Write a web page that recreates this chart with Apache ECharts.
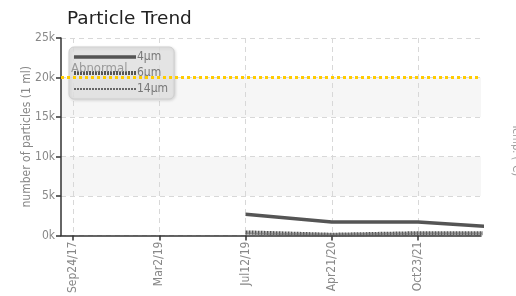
<!DOCTYPE html>
<html>
<head>
<meta charset="utf-8">
<script src="https://cdn.jsdelivr.net/npm/echarts@6/dist/echarts.min.js"></script>
<style>html,body{margin:0;padding:0;background:#fff}#c{width:516px;height:296px}</style>
</head>
<body>
<div id="c"></div>
<script>
var dateLabels = ['Sep24/17', 'Mar2/19', 'Jul12/19', 'Apr21/20', 'Oct23/21'];
var yTicks = [0, 5000, 10000, 15000, 20000, 25000];
var um4 = [null, null, 2700, 1700, 1700, 1000];
var um6 = [null, null, 400, 100, 300, 300];
var um14 = [null, null, 250, 150, 250, 250];
var abnormalLevel = 20000;

var FONT = '"DejaVu Sans Condensed","Liberation Sans Narrow","Roboto",sans-serif';
function pts(arr){ return arr.map(function(v,i){ return [i, v]; }); }
var chart = echarts.init(document.getElementById('c'), null, {renderer:'canvas'});
chart.setOption({
  animation:false,
  title:{text:'Particle Trend', left:62, top:5, textStyle:{fontFamily:'"DejaVu Sans",sans-serif', fontSize:18.5, fontWeight:'normal', color:'#222'}},
  grid:{left:61, right:35, top:38, bottom:60, containLabel:false},
  legend:{
    orient:'vertical', left:69, top:47, padding:[4,6,4,3], itemGap:4,
    itemWidth:62, itemHeight:5, backgroundColor:'rgba(228,228,228,0.82)',
    borderColor:'#cfcfcf', borderWidth:1, borderRadius:5,
    shadowColor:'rgba(0,0,0,0.15)', shadowBlur:3, shadowOffsetX:1, shadowOffsetY:1,
    itemStyle:{opacity:0},
    textStyle:{fontFamily:FONT, fontSize:12, color:'#777', padding:[0,0,0,-4]},
    data:[
      {name:'4μm', lineStyle:{width:3.5, color:'#555', type:'solid'}},
      {name:'6μm', lineStyle:{width:4, color:'#555', type:[2,1]}},
      {name:'14μm', lineStyle:{width:2, color:'#666', type:[2,1]}}
    ]
  },
  xAxis:{
    type:'value', min:-0.14, max:4.73,
    axisLine:{show:true, onZero:false, lineStyle:{color:'#333', width:1.5}},
    axisTick:{show:true, customValues:[0,1,2,3,4], length:5, lineStyle:{color:'#333', width:1.5}},
    axisLabel:{customValues:[0,1,2,3,4], rotate:90, color:'#888', fontFamily:FONT, fontSize:12, margin:6,
      formatter:function(v){ return dateLabels[Math.round(v)] || ''; }},
    splitLine:{show:true, lineStyle:{color:'#d8d8d8', type:[5,4]}}
  },
  yAxis:{
    type:'value', min:yTicks[0], max:yTicks[yTicks.length-1], interval:5000,
    name:'number of particles (1 ml)', nameLocation:'middle', nameGap:28, nameMoveOverlap:false,
    nameTextStyle:{color:'#888', fontFamily:FONT, fontSize:12},
    axisLine:{show:true, onZero:false, lineStyle:{color:'#333', width:1.5}},
    axisTick:{show:true, length:5, lineStyle:{color:'#333', width:1.5}},
    axisLabel:{color:'#888', fontFamily:FONT, fontSize:12, margin:6, formatter:function(v){ return (v/1000)+'k'; }},
    splitLine:{show:true, lineStyle:{color:'#d8d8d8', type:[5,4]}},
    splitArea:{show:true, areaStyle:{color:['#ffffff','#f6f6f6']}}
  },
  graphic:[{type:'text', left:510, top:124, rotation:-Math.PI/2, originX:0, originY:0,
    style:{text:'Temp. (°C)', fill:'#999', font:'11px '+FONT}}],
  series:[
    {name:'4μm', type:'line', data:pts(um4), showSymbol:false, symbol:'none', connectNulls:false,
     lineStyle:{color:'#555', width:3.5}, itemStyle:{color:'#555'}, z:3,
     markLine:{silent:true, symbol:['none','none'],
       lineStyle:{color:'#ffcc00', type:'dotted', width:3},
       label:{show:true, position:'insideStartTop', formatter:'Abnormal', color:'#999', fontFamily:FONT, fontSize:13, distance:[10,2]},
       data:[{yAxis:abnormalLevel}]}},
    {name:'6μm', type:'line', data:pts(um6), showSymbol:false, symbol:'none',
     lineStyle:{color:'#555', width:4, type:[2,1]}, itemStyle:{color:'#555'}, z:2},
    {name:'14μm', type:'line', data:pts(um14), showSymbol:false, symbol:'none',
     lineStyle:{color:'#666', width:2, type:[2,1]}, itemStyle:{color:'#666'}, z:2}
  ]
});
</script>
</body>
</html>
